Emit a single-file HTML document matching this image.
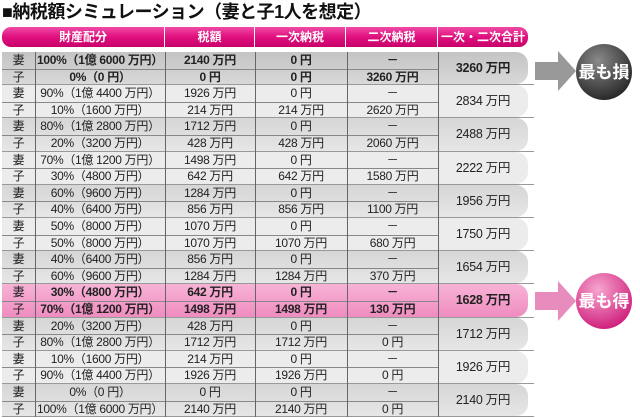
<!DOCTYPE html>
<html><head><meta charset="utf-8"><style>
body{margin:0;width:640px;height:418px;background:#fff;position:relative;overflow:hidden;font-family:"Liberation Sans","Noto Sans CJK JP",sans-serif;}
.title{position:absolute;left:2px;top:-2px;font-size:18px;font-weight:bold;color:#111;letter-spacing:-0.5px;}
.hdr{position:absolute;left:2px;top:27px;width:526px;height:20px;border-radius:9px;background:linear-gradient(#f04aa6,#e0107e 50%,#c8006a);}
.hc{position:absolute;top:0;height:20px;line-height:20px;color:#fff;font-size:12px;font-weight:bold;text-align:center;border-right:1px solid #fff;}
.pair{position:absolute;left:2px;width:526px;border-radius:0 12px 12px 0;}
.cell{position:absolute;text-align:center;font-size:12px;color:#222;white-space:nowrap;letter-spacing:-0.3px;}
.vl{position:absolute;width:1px;background:#666;}
.hl{position:absolute;height:1px;background:#888;}
.b{font-weight:bold;}
</style></head><body>
<div class="title">■納税額シミュレーション（妻と子1人を想定）</div>
<div class="hdr">
<div class="hc" style="left:0;width:162px">財産配分</div>
<div class="hc" style="left:163px;width:89px">税額</div>
<div class="hc" style="left:253px;width:90px">一次納税</div>
<div class="hc" style="left:344px;width:91px">二次納税</div>
<div class="hc" style="left:436px;width:90px;border:none">一次・二次合計</div>
</div>
<div id="tbl"></div>
<svg width="640" height="418" style="position:absolute;left:0;top:0">
<defs>
<radialGradient id="gg" cx="40%" cy="30%" r="70%"><stop offset="0" stop-color="#8a8a8a"/><stop offset="1" stop-color="#2a2a2a"/></radialGradient>
<radialGradient id="pg" cx="40%" cy="30%" r="70%"><stop offset="0" stop-color="#f7a6cf"/><stop offset="1" stop-color="#d0237e"/></radialGradient>
</defs>
<polygon points="535,62 558,62 558,51 576,71 558,91 558,80 535,80" fill="#999"/>
<circle cx="604" cy="72" r="28" fill="url(#gg)"/>
<text x="604" y="78" text-anchor="middle" font-size="17" font-weight="bold" fill="#fff" font-family="Liberation Sans,Noto Sans CJK JP,sans-serif">最も損</text>
<polygon points="535,292 558,292 558,281 576,301 558,321 558,310 535,310" fill="#e88cbd"/>
<circle cx="604" cy="301" r="28" fill="url(#pg)"/>
<text x="604" y="307" text-anchor="middle" font-size="17" font-weight="bold" fill="#fff" font-family="Liberation Sans,Noto Sans CJK JP,sans-serif">最も得</text>
</svg>
<script>
const wifeAlloc=["100%（1億 6000 万円）","90%（1億 4400 万円）","80%（1億 2800 万円）","70%（1億 1200 万円）","60%（9600 万円）","50%（8000 万円）","40%（6400 万円）","30%（4800 万円）","20%（3200 万円）","10%（1600 万円）","0%（0 円）"];
const childAlloc=["0%（0 円）","10%（1600 万円）","20%（3200 万円）","30%（4800 万円）","40%（6400 万円）","50%（8000 万円）","60%（9600 万円）","70%（1億 1200 万円）","80%（1億 2800 万円）","90%（1億 4400 万円）","100%（1億 6000 万円）"];
const wifeTax=["2140 万円","1926 万円","1712 万円","1498 万円","1284 万円","1070 万円","856 万円","642 万円","428 万円","214 万円","0 円"];
const childTax=["0 円","214 万円","428 万円","642 万円","856 万円","1070 万円","1284 万円","1498 万円","1712 万円","1926 万円","2140 万円"];
const wifePrimary=["0 円","0 円","0 円","0 円","0 円","0 円","0 円","0 円","0 円","0 円","0 円"];
const childPrimary=["0 円","214 万円","428 万円","642 万円","856 万円","1070 万円","1284 万円","1498 万円","1712 万円","1926 万円","2140 万円"];
const childSecondary=["3260 万円","2620 万円","2060 万円","1580 万円","1100 万円","680 万円","370 万円","130 万円","0 円","0 円","0 円"];
const totals=["3260 万円","2834 万円","2488 万円","2222 万円","1956 万円","1750 万円","1654 万円","1628 万円","1712 万円","1926 万円","2140 万円"];
const T=document.getElementById('tbl');
const top0=52, ph=33.2, cols=[2,35,165,255,347,438,528];
function add(html,style,cls,name){const d=document.createElement('div');d.className=cls;d.style.cssText=style;d.textContent=html;


T.appendChild(d);return d;}
for(let i=0;i<totals.length;i++){
 const y=top0+i*ph, special=(i===0||i===7);
 let bg=i===7?'linear-gradient(#f7b3d6,#ef8cc0)':i===0?'linear-gradient(#c4c4c4,#d8d8d8)':(i%2?'#ececec':'linear-gradient(#d6d6d6,#e6e6e6)');
 add('',`top:${y}px;height:${ph-1}px;background:${bg}`,'pair','row-pair-'+i);
 const b=special?' b':'';
 const rh=ph/2;
 const rows=[["妻",wifeAlloc[i],wifeTax[i],wifePrimary[i],"－"],["子",childAlloc[i],childTax[i],childPrimary[i],childSecondary[i]]];
 rows.forEach((r,k)=>{
  const yy=y+k*rh;
  r.forEach((v,c)=>{
   add(v,`left:${cols[c]}px;width:${cols[c+1]-cols[c]}px;top:${yy}px;height:${rh}px;line-height:${rh}px`,'cell'+(c>0?b:''),['person','allocation','tax','primary-tax','secondary-tax'][c]+'-'+i+'-'+k);
  });
 });
 add(totals[i],`left:${cols[5]}px;width:${cols[6]-cols[5]}px;top:${y}px;height:${ph}px;line-height:${ph}px;font-size:12.5px`,'cell'+b,'total-'+i);
 add('',`left:${cols[0]}px;width:${cols[5]-cols[0]}px;top:${y+rh}px`,'hl','row-divider-'+i);
 add('',`left:${cols[0]}px;width:${cols[6]-cols[0]+6}px;top:${y+ph-1}px;background:#999`,'hl','pair-divider-'+i);
 for(let c=1;c<6;c++) add('',`left:${cols[c]}px;top:${y}px;height:${ph}px`,'vl','col-divider-'+i+'-'+c);
}
</script>
</body></html>
